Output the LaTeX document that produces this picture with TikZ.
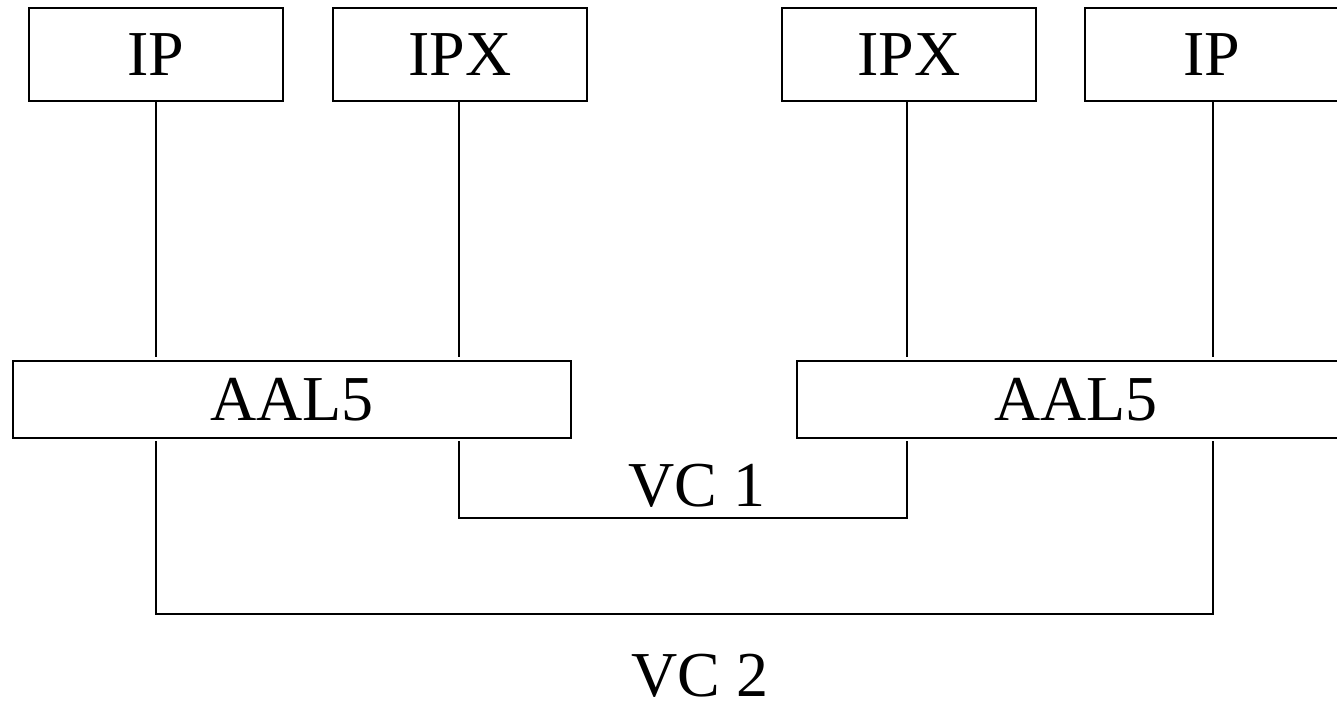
\documentclass[tikz,border=0pt]{standalone}
\usepackage{fontspec}
\setmainfont{Liberation Serif}
\begin{document}
\begin{tikzpicture}[x=0.75pt,y=-0.75pt,
  line width=2pt,
  layer/.style={draw, rectangle, inner sep=0pt, minimum height=69.75pt,
    minimum width=190.5pt, font=\fontsize{48}{56}\selectfont},
  aal/.style={layer, minimum height=57.75pt, minimum width=418.5pt},
  label/.style={inner sep=0pt, font=\fontsize{48}{56}\selectfont},
  down/.style={shorten >=2pt},
  both/.style={shorten <=1.5pt, shorten >=1.5pt}
]
\useasboundingbox (0,0) rectangle (1337,702);
\clip (0,0) rectangle (1337,702);

% protocol layers
\node[layer] (ipL)  at (156,54.5)  {IP};
\node[layer] (ipxL) at (460,54.5)  {IPX};
\node[layer] (ipxR) at (909,54.5)  {IPX};
\node[layer] (ipR)  at (1212,54.5) {IP};

% adaptation layers
\node[aal] (aalL) at (292,399.5)  {AAL5};
\node[aal] (aalR) at (1076,399.5) {AAL5};

% attachments to AAL5
\coordinate (aL) at (156,0);
\coordinate (bL) at (459,0);
\coordinate (bR) at (907,0);
\coordinate (aR) at (1213,0);
\draw[down] (aL |- ipL.south)  -- (aL |- aalL.north);
\draw[down] (bL |- ipxL.south) -- (bL |- aalL.north);
\draw[down] (bR |- ipxR.south) -- (bR |- aalR.north);
\draw[down] (aR |- ipR.south)  -- (aR |- aalR.north);

% virtual circuits
\coordinate (vc1) at (0,518);
\coordinate (vc2) at (0,614);
\draw[both] (bL |- aalL.south) -- (bL |- vc1) -- (bR |- vc1) -- (bR |- aalR.south);
\draw[both] (aL |- aalL.south) -- (aL |- vc2) -- (aR |- vc2) -- (aR |- aalR.south);

\node[label] (vc1l) at (697,485.5) {VC 1};
\node[label] (vc2l) at (700,676) {VC 2};
\end{tikzpicture}
\end{document}
